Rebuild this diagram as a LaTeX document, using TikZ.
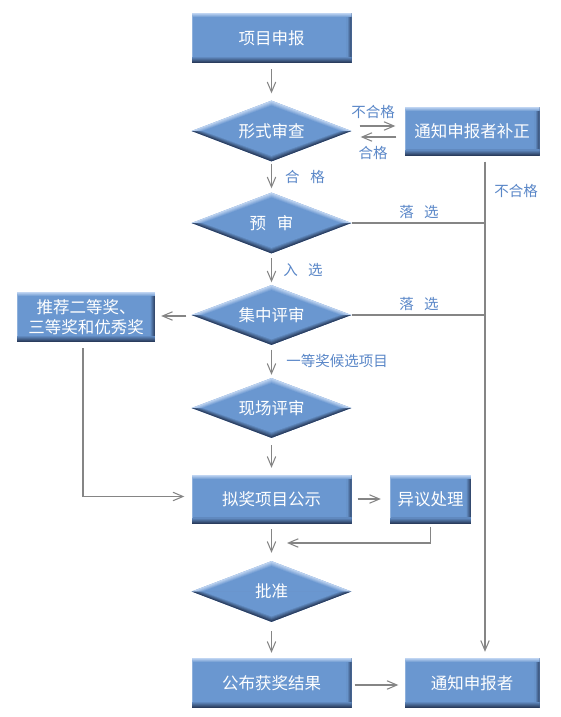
\documentclass[tikz,border=0pt]{standalone}
\usepackage{fontspec}
\newfontfamily\cjk{Noto Sans CJK SC}
\usetikzlibrary{shapes.geometric,arrows.meta,calc}
\definecolor{bmain}{HTML}{6A97D0}
\definecolor{blight}{HTML}{C0D5F2}
\definecolor{bdark}{HTML}{2A3D5E}
\definecolor{lab}{HTML}{5A87C8}
\definecolor{lnc}{HTML}{858585}
\begin{document}
\begin{tikzpicture}[x=1pt,y=-1pt,
  bx/.style={rectangle, inner sep=0pt, minimum width=160pt, minimum height=50pt, text=white,
    font=\cjk\fontsize{16.5}{20}\selectfont, fill=bmain,
    path picture={
      \foreach \k in {0,...,4} {
        \pgfmathtruncatemacro\p{85-\k*20}
        \fill[bdark!\p!bmain] ([xshift=-\k pt - 1.1pt]path picture bounding box.north east) rectangle ([xshift=-\k pt]path picture bounding box.south east);
      }
      \foreach \k in {0,...,5} {
        \pgfmathtruncatemacro\p{100-\k*17}
        \fill[bdark!\p!bmain] ([yshift=\k pt]path picture bounding box.south west) rectangle ([yshift=\k pt + 1.1pt]path picture bounding box.south east);
      }
      \foreach \k in {0,...,3} {
        \pgfmathtruncatemacro\p{100-\k*25}
        \fill[blight!\p!bmain] ([yshift=-\k pt]path picture bounding box.north west) rectangle ([yshift=-\k pt - 1.1pt]path picture bounding box.north east);
      }
      \fill[bmain!75!white] ([yshift=-3pt]path picture bounding box.north west) rectangle ([xshift=1pt,yshift=6pt]path picture bounding box.south west);
    }},
  dm/.style={diamond, aspect=2.6, inner sep=0pt, minimum width=160pt, minimum height=61pt, text=white,
    font=\cjk\fontsize{16.5}{20}\selectfont, fill=bmain,
    path picture={
      \foreach \k in {0,...,5} {
        \pgfmathtruncatemacro\p{100-\k*20}
        \fill[blight!\p!bmain] ([yshift=-1.0*\k pt]path picture bounding box.north) -- ([xshift=-2.2*\k pt]path picture bounding box.east) -- ([xshift=2.2*\k pt]path picture bounding box.west) -- cycle;
        \fill[bdark!\p!bmain] ([xshift=-2.2*\k pt]path picture bounding box.east) -- ([yshift=1.1*\k pt]path picture bounding box.south) -- ([xshift=2.2*\k pt]path picture bounding box.west) -- cycle;
      }
    }},
  lab/.style={text=lab, inner sep=0pt, font=\cjk\fontsize{14.5}{17}\selectfont},
  ln/.style={draw=lnc, line width=1.05pt},
  arr/.style={ln, -{Straight Barb[length=10pt,width=8.5pt]}}
]
\fill[white] (0,0) rectangle (561,717);
\useasboundingbox (0,0) rectangle (561,717);

\node[bx] (a) at (271.5,38) {项目申报};
\node[dm] (b) at (271.5,131) {形式审查};
\node[bx, minimum width=135pt, minimum height=49pt] (c) at (472,131) {通知申报者补正};
\node[dm] (d) at (271.5,223) {预\hspace{0.65em}审};
\node[dm, minimum height=60pt] (e) at (271.5,315) {集中评审};
\node[bx, minimum width=138pt, align=center] (f) at (86,317) {推荐二等奖、\\三等奖和优秀奖};
\node[dm, minimum height=60pt] (g) at (271.5,408) {现场评审};
\node[bx, minimum height=49pt] (h) at (271.5,499) {拟奖项目公示};
\node[bx, minimum width=81pt, minimum height=49pt] (i) at (430.5,499) {异议处理};
\node[dm] (j) at (271.5,591.5) {批准};
\node[bx] (k) at (271.5,683) {公布获奖结果};
\node[bx, minimum width=135pt] (l) at (472,683) {通知申报者};

\node[lab] (t1) at (373,112) {不合格};
\node[lab] (t2) at (373,153) {合格};
\node[lab] (t3) at (305,177) {合\hspace{0.75em}格};
\node[lab] (t4) at (419,212) {落\hspace{0.7em}选};
\node[lab] (t5) at (516,191) {不合格};
\node[lab] (t6) at (303,270) {入\hspace{0.7em}选};
\node[lab] (t7) at (419,304) {落\hspace{0.7em}选};
\node[lab] (t8) at (337,361) {一等奖候选项目};

\draw[arr] ($(a.south)+(0,6)$) -- ($(b.north)+(0,-7)$);
\draw[arr] ($(b.east)+(8,-5)$) -- ($(c.west)+(-9,-5)$);
\draw[arr] ($(c.west)+(-8,6)$) -- ($(b.east)+(9,6)$);
\draw[arr] ($(b.south)+(0,2)$) -- ($(d.north)+(0,-4)$);
\draw[arr] ($(d.south)+(0,4.5)$) -- ($(e.north)+(0,-2.5)$);
\draw[arr] ($(e.south)+(0,4.5)$) -- ($(g.north)+(0,-3)$);
\draw[arr] ($(g.south)+(0,7)$) -- ($(h.north)+(0,-6.5)$);
\draw[arr] ($(h.south)+(0,5.5)$) -- ($(j.north)+(0,-8)$);
\draw[arr] ($(j.south)+(0,9)$) -- ($(k.north)+(0,-5)$);

\coordinate (vt) at ($(c.south)+(13,6)$);
\draw[arr] (vt) -- ($(l.north)+(13,-6)$);
\draw[ln] (d.east) -- (d.east -| vt);
\draw[ln] (e.east) -- (e.east -| vt);

\draw[arr] ($(e.west)+(-5,1)$) -- ($(f.east |- e.west)+(6,1)$);
\draw[arr] ($(f.south)+(-3,6)$) |- ($(h.west)+(-7,-2.5)$);
\draw[arr] ($(h.east)+(6,0)$) -- ($(i.west)+(-9,0)$);
\coordinate (m) at (287,543);
\draw[arr] ($(i.south)+(0,3)$) |- (m);
\draw[arr] ($(k.east)+(3,2)$) -- ($(l.west)+(-6,2)$);
\end{tikzpicture}
\end{document}
